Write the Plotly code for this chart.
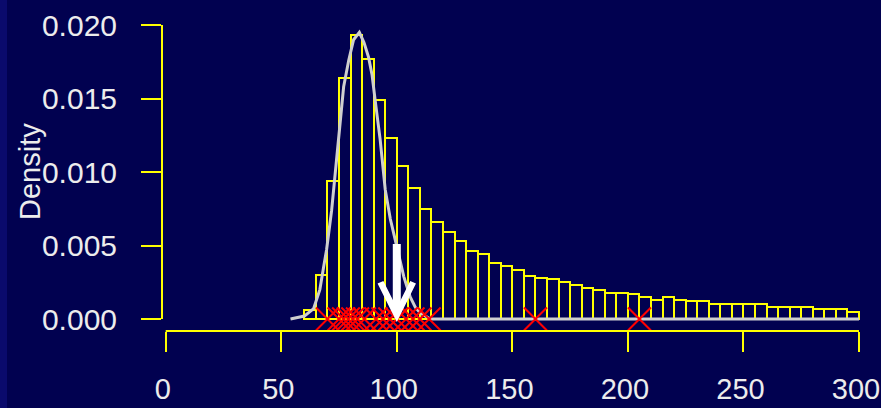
import plotly.graph_objects as go

# ---------------- data ----------------
bin_width = 5
bin_starts = [60, 65, 70, 75, 80, 85, 90, 95, 100, 105, 110, 115, 120, 125, 130, 135,
              140, 145, 150, 155, 160, 165, 170, 175, 180, 185, 190, 195, 200, 205,
              210, 215, 220, 225, 230, 235, 240, 245, 250, 255, 260, 265, 270, 275,
              280, 285, 290, 295]
bin_density = [0.0006, 0.0030, 0.0094, 0.0164, 0.0193, 0.0177, 0.0149, 0.0123, 0.0104,
               0.0089, 0.0075, 0.0066, 0.0059, 0.0053, 0.0046, 0.0044, 0.0038, 0.0036,
               0.0033, 0.0029, 0.0028, 0.0027, 0.0025, 0.0023, 0.0021, 0.0020, 0.0018,
               0.0018, 0.0017, 0.0015, 0.0013, 0.0015, 0.0013, 0.0012, 0.0012, 0.0010,
               0.0010, 0.0010, 0.0010, 0.0010, 0.00084, 0.00084, 0.00084, 0.00084,
               0.00068, 0.00068, 0.00068, 0.00046]

curve_x = [54, 60, 64, 66.7, 68.3, 69.6, 71.8, 74, 76, 77, 79.2, 81.3, 83.8, 85.8, 87.8,
           89.3, 90.7, 92.8, 95, 97.2, 99.3, 101, 103, 105.8, 108, 110.2, 114.5, 300]
curve_y = [0, 0.0002, 0.0007, 0.0020, 0.0035, 0.0047, 0.0074, 0.0108, 0.0142, 0.0158,
           0.0176, 0.0190, 0.0195, 0.0188, 0.0178, 0.0166, 0.0148, 0.0122, 0.0088, 0.0068,
           0.0054, 0.0042, 0.0029, 0.0015, 0.0008, 0.0004, 0, 0]

obs_x = [70, 75, 77, 79, 81, 83, 86, 91, 94, 97, 100, 104, 107, 110, 114, 160, 205]
obs_y = [0] * len(obs_x)

arrow_x = 100
arrow_top = 0.0052
arrow_tip = -0.0002

x_ticks = [0, 50, 100, 150, 200, 250, 300]
y_ticks = [0.000, 0.005, 0.010, 0.015, 0.020]
y_labels = ["0.000", "0.005", "0.010", "0.015", "0.020"]

# ---------------- style ----------------
BG = "#010150"
YEL = "#ffff00"
TXT = "#ececec"
FONT = "Liberation Sans Narrow, Arial Narrow, Liberation Sans, Arial, sans-serif"

fig = go.Figure()
fig.add_trace(go.Bar(x=bin_starts, y=bin_density, width=bin_width, offset=0,
                     marker=dict(color="rgba(0,0,0,0)", line=dict(color=YEL, width=2)),
                     hoverinfo="skip"))
fig.add_trace(go.Scatter(x=curve_x, y=curve_y, mode="lines",
                         line=dict(color="#cfcfcf", width=3), hoverinfo="skip"))
fig.add_trace(go.Scatter(x=obs_x, y=obs_y, mode="markers", cliponaxis=False,
                         marker=dict(symbol="x-thin", size=23,
                                     line=dict(color="#ff0000", width=2)),
                         hoverinfo="skip"))

fig.add_annotation(x=arrow_x, y=arrow_tip, ax=arrow_x, ay=arrow_top,
                   xref="x", yref="y", axref="x", ayref="y", text="",
                   showarrow=True, arrowhead=5, arrowwidth=8, arrowsize=0.8,
                   arrowcolor="#ffffff")

fig.add_annotation(text="Density", textangle=-90, xref="paper", yref="paper",
                   x=(30 - 162) / 699, y=(331 - 172) / 311, xanchor="center",
                   yanchor="middle", showarrow=False,
                   font=dict(family=FONT, size=29, color=TXT))

# R-style detached axis lines
fig.add_shape(type="line", xref="x", yref="paper", x0=x_ticks[0], x1=x_ticks[-1],
              y0=0, y1=0, line=dict(color=YEL, width=2))
fig.add_shape(type="line", xref="paper", yref="y", x0=0, x1=0,
              y0=y_ticks[0], y1=y_ticks[-1], line=dict(color=YEL, width=2))
# light strip at the left border
fig.add_shape(type="rect", xref="paper", yref="paper", x0=-162 / 699, x1=-155 / 699,
              y0=-77 / 311, y1=(311 + 20) / 311, line=dict(width=0),
              fillcolor="#0a0a6c", layer="below")

fig.update_layout(
    width=881, height=408, autosize=False,
    margin=dict(l=162, r=20, t=20, b=77, pad=0, autoexpand=False),
    paper_bgcolor=BG, plot_bgcolor=BG, showlegend=False, bargap=0,
    xaxis=dict(range=[-1.6, 300.87], tickvals=x_ticks, ticks="outside", ticklen=20,
               tickwidth=2, tickcolor=YEL, showgrid=False, zeroline=False,
               showline=False, ticklabelstandoff=12, ticklabelshift=-3,
               automargin=False, ticklabeloverflow="allow",
               tickfont=dict(family=FONT, size=29, color=TXT)),
    yaxis=dict(range=[-0.000816, 0.02034], tickvals=y_ticks, ticktext=y_labels,
               ticks="outside", ticklen=20, tickwidth=2, tickcolor=YEL,
               showgrid=False, zeroline=False, showline=False, ticklabelstandoff=18,
               automargin=False, ticklabeloverflow="allow",
               tickfont=dict(family=FONT, size=30, color=TXT)),
)

fig.write_html("out.html", config={"displayModeBar": False},
               post_script="document.body.style.margin='0';document.body.style.overflow='hidden';")
